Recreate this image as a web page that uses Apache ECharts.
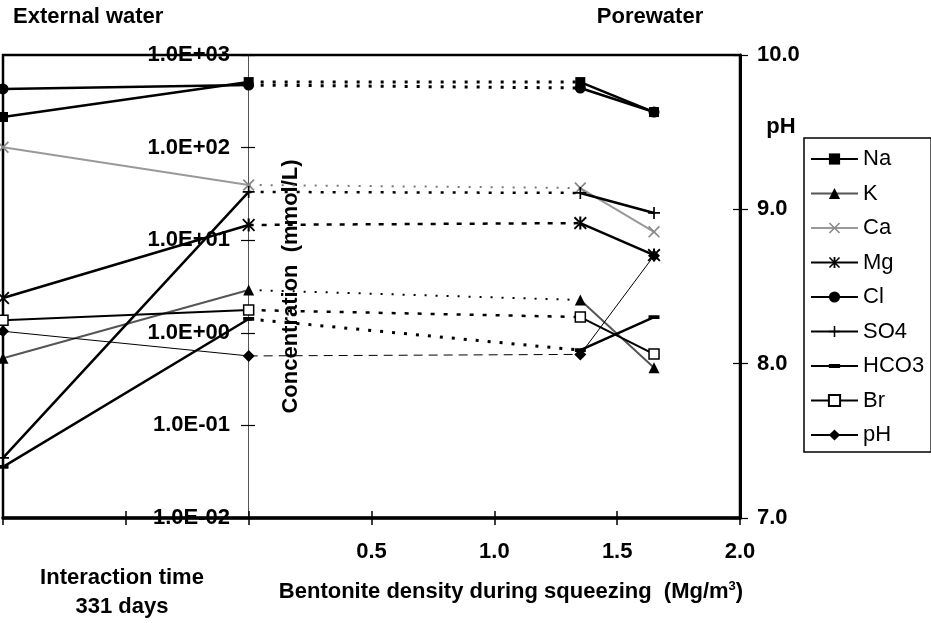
<!DOCTYPE html>
<html>
<head>
<meta charset="utf-8">
<script src="https://cdn.jsdelivr.net/npm/echarts@6/dist/echarts.min.js"></script>
<style>
  html, body { margin: 0; padding: 0; background: #fff; }
  #chart { width: 931px; height: 623px; }
</style>
</head>
<body>
<div id="chart"></div>
<script>
// x positions: external water at start / after 331 days (left panel), then squeezing densities
const externalX = [-1, 0];
const densities = [1.35, 1.65];
const elements = ["Na", "K", "Ca", "Mg", "Cl", "SO4", "HCO3", "Br", "pH"];

// [external start, external 331 d, porewater 1.35, porewater 1.65]
const na = [214, 510, 510, 242];
const k = [0.53, 2.9, 2.26, 0.42];
const ca = [101, 39.5, 36.6, 12.3];
const mg = [2.38, 14.6, 15.3, 6.9];
const cl = [430, 474, 440, 242];
const so4 = [0.0445, 33.2, 32.4, 19.7];
const hco3 = [0.0356, 1.41, 0.65, 1.48];
const br = [1.37, 1.76, 1.48, 0.59];
const ph = [8.21, 8.05, 8.06, 8.70];

const values = { Na: na, K: k, Ca: ca, Mg: mg, Cl: cl, SO4: so4, HCO3: hco3, Br: br, pH: ph };

const FONT = "Liberation Sans, Arial, sans-serif";
const X_PATH = "path://M0,1L1,0L5,4L9,0L10,1L6,5L10,9L9,10L5,6L1,10L0,9L4,5Z";
const STAR_PATH = "path://M0,1L1,0L5,4L9,0L10,1L6,5L10,9L9,10L5,6L1,10L0,9L4,5Z M4.2,0H5.8V10H4.2Z";
const PLUS_PATH = "path://M4.3,0H5.7V4.3H10V5.7H5.7V10H4.3V5.7H0V4.3H4.3Z";
// short horizontal bar inside a square box (empty sub-paths keep the box square)
const DASH_PATH = "path://M0,3.3H10V6.7H0Z M5,0L5,0Z M5,10L5,10Z";

const looks = {
  Na:   { symbol: "rect", size: 10, line: "#000", width: 2.5, link: [3, 9], linkWidth: 3 },
  K:    { symbol: "triangle", size: 11, line: "#555", width: 2, link: [2, 9], linkWidth: 2 },
  Ca:   { symbol: X_PATH, size: 12, color: "#888", line: "#999", width: 2, link: [2, 9], linkWidth: 2, linkColor: "#777" },
  Mg:   { symbol: STAR_PATH, size: 13, line: "#000", width: 2.5, link: [5, 8], linkWidth: 2.5 },
  Cl:   { symbol: "circle", size: 11, line: "#000", width: 2.5, link: [3, 9], linkWidth: 3 },
  SO4:  { symbol: PLUS_PATH, size: 12, line: "#000", width: 2.5, link: [3, 9], linkWidth: 2.5 },
  HCO3: { symbol: DASH_PATH, size: 11, line: "#000", width: 2.5, link: [3, 9], linkWidth: 3 },
  Br:   { symbol: "rect", size: 10, color: "#fff", border: 1.5, line: "#000", width: 2, link: [4, 9], linkWidth: 2.5 },
  pH:   { symbol: "diamond", size: 12, line: "#000", width: 1, link: [9, 6], linkWidth: 1, axis: 1 }
};

const xs = [...externalX, ...densities];

function solidData(v) {
  return [[xs[0], v[0]], [xs[1], v[1]], [0.7, "-"], [xs[2], v[2]], [xs[3], v[3]]];
}
function linkData(v) {
  return [[xs[1], v[1]], [xs[2], v[2]]];
}

function sci(v) {
  const e = Math.round(Math.log10(v));
  return "1.0E" + (e < 0 ? "-" : "+") + String(Math.abs(e)).padStart(2, "0");
}

const series = [];
elements.forEach((name) => {
  const s = looks[name];
  series.push({
    name: name + " link",
    type: "line",
    yAxisIndex: s.axis || 0,
    data: linkData(values[name]),
    symbol: "none",
    lineStyle: { color: s.linkColor || "#000", width: s.linkWidth, type: s.link },
    silent: true,
    z: 2
  });
});
elements.forEach((name) => {
  const s = looks[name];
  series.push({
    name: name,
    type: "line",
    yAxisIndex: s.axis || 0,
    data: solidData(values[name]),
    connectNulls: false,
    symbol: s.symbol,
    symbolSize: s.size,
    showAllSymbol: true,
    itemStyle: {
      color: s.color || "#000",
      borderColor: "#000",
      borderWidth: s.border || 0
    },
    lineStyle: { color: s.line, width: s.width },
    z: 3
  });
});

const bold = { fontFamily: FONT, fontWeight: "bold", fontSize: 22, color: "#000" };

const chart = echarts.init(document.getElementById("chart"));
chart.setOption({
  animation: false,
  backgroundColor: "#fff",
  grid: {
    left: 3, top: 55, width: 737, height: 463,
    show: true, borderColor: "#000", borderWidth: 2.5, backgroundColor: "transparent"
  },
  legend: {
    data: elements,
    orient: "vertical",
    left: 804,
    top: 138,
    padding: [9, 7, 5, 6],
    itemGap: 10.5,
    itemWidth: 47,
    itemHeight: 14,
    borderColor: "#000",
    borderWidth: 1.5,
    selectedMode: false,
    textStyle: { fontFamily: FONT, fontSize: 22, color: "#000", lineHeight: 24 }
  },
  xAxis: [
    {
      type: "value", min: -1, max: 2, interval: 0.5, position: "bottom",
      axisLine: { show: true, onZero: false, lineStyle: { color: "#000", width: 3.5 } },
      axisTick: { show: true, length: 7, lineStyle: { color: "#000", width: 1.5 } },
      axisLabel: {
        ...bold, margin: 23,
        formatter: (v) => (v > 0 ? v.toFixed(1) : "")
      },
      splitLine: { show: false }
    },
    {
      type: "value", min: -1, max: 2, interval: 0.5, position: "bottom",
      axisLine: { show: false, onZero: false },
      axisTick: { show: true, inside: true, length: 7, lineStyle: { color: "#000", width: 1.5 } },
      axisLabel: { show: false },
      splitLine: { show: false }
    }
  ],
  yAxis: [
    {
      type: "log", logBase: 10, min: 0.01, max: 1000, position: "left", offset: -245,
      axisLine: { show: true, onZero: false, lineStyle: { color: "#555", width: 1 } },
      axisTick: { show: true, length: 7, lineStyle: { color: "#000", width: 1.2 } },
      axisLabel: { ...bold, margin: 18, formatter: sci },
      splitLine: { show: false },
      name: "Concentration  (mmol/L)",
      nameLocation: "middle",
      nameGap: -54,
      nameTextStyle: { ...bold }
    },
    {
      type: "value", min: 7, max: 10, interval: 1, position: "right",
      axisLine: { show: true, onZero: false, lineStyle: { color: "#000", width: 3 } },
      axisTick: { show: true, length: 8, lineStyle: { color: "#000", width: 1.2 } },
      axisLabel: { ...bold, margin: 17, formatter: (v) => v.toFixed(1) },
      splitLine: { show: false }
    },
    {
      type: "log", logBase: 10, min: 0.01, max: 1000, position: "left", offset: -245,
      axisLine: { show: false, onZero: false },
      axisTick: { show: true, inside: true, length: 7, lineStyle: { color: "#000", width: 1.2 } },
      axisLabel: { show: false },
      splitLine: { show: false }
    },
    {
      type: "value", min: 7, max: 10, interval: 1, position: "right",
      axisLine: { show: false, onZero: false },
      axisTick: { show: true, inside: true, length: 7, lineStyle: { color: "#000", width: 1.2 } },
      axisLabel: { show: false },
      splitLine: { show: false }
    }
  ],
  graphic: [
    { type: "text", left: 13, top: 6, style: { text: "External water", font: "bold 22px " + FONT, fill: "#000" } },
    { type: "text", x: 650, y: 17, style: { text: "Porewater", font: "bold 22px " + FONT, fill: "#000", align: "center", verticalAlign: "middle" } },
    { type: "text", x: 781, y: 127, style: { text: "pH", font: "bold 22px " + FONT, fill: "#000", align: "center", verticalAlign: "middle" } },
    { type: "text", x: 122, y: 578, style: { text: "Interaction time", font: "bold 22px " + FONT, fill: "#000", align: "center", verticalAlign: "middle" } },
    { type: "text", x: 122, y: 607, style: { text: "331 days", font: "bold 22px " + FONT, fill: "#000", align: "center", verticalAlign: "middle" } },
    {
      type: "text", x: 511, y: 592,
      style: {
        text: "{a|Bentonite density during squeezing  (Mg/m}{s|3}{a|)}",
        align: "center", verticalAlign: "middle",
        rich: {
          a: { fontFamily: FONT, fontWeight: "bold", fontSize: 22, fill: "#000", color: "#000" },
          s: { fontFamily: FONT, fontWeight: "bold", fontSize: 13, fill: "#000", color: "#000", verticalAlign: "top", padding: [0, 0, 12, 0] }
        }
      }
    }
  ],
  series: series
});
</script>
</body>
</html>
